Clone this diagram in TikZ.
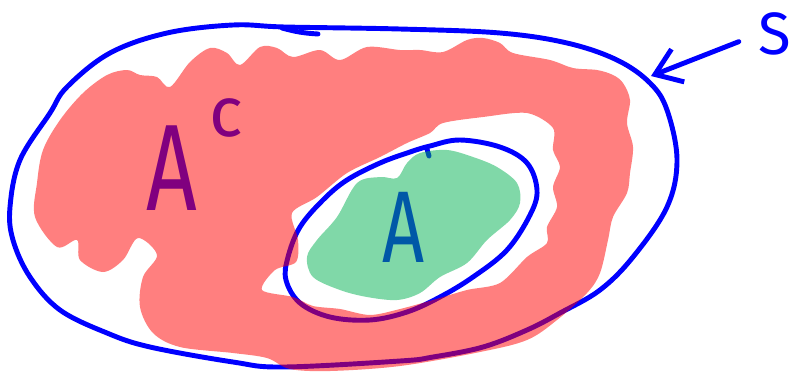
\documentclass[tikz,border=0pt]{standalone}
\usepackage{fontspec}
\setmainfont{Fira Sans}
\usetikzlibrary{arrows.meta}
\definecolor{penBlue}{RGB}{0,0,255}
\definecolor{markRed}{RGB}{255,0,0}
\definecolor{markGreen}{RGB}{1,177,81}

\begin{document}
\begin{tikzpicture}[
  x=0.02cm, y=-0.02cm,
  pen/.style={draw=penBlue, line width=2.8pt, line cap=round, line join=round},
  marker/.style={draw=none, fill opacity=0.5, even odd rule},
  hand/.style={text=penBlue, inner sep=0pt},
  arr/.style={pen, -{Straight Barb[length=14pt, width=20pt]}},
]
\useasboundingbox (0,0) rectangle (798,373);

%% Pen strokes (drawn first, the markers go over them)
\draw[pen] plot[smooth cycle, tension=0.6] coordinates {
  (285,27) (233,25) (167,33) (110,53) (67,87) (50,113) (20,160) (10,207)
  (13,240) (30,277) (60,310) (107,333) (150,347) (233,362) (283,367)
  (400,361) (433,357) (483,347) (527,330) (560,313) (600,290) (633,257)
  (667,207) (677,160) (667,110) (650,83) (617,60) (567,43) (500,33) (400,29)};
\draw[pen] (282,28) to[bend right=6] (318,34);

\draw[pen] plot[smooth cycle, tension=0.6] coordinates {
  (430,146) (460,140) (500,147) (527,163) (537,190) (530,215) (507,250)
  (473,277) (440,297) (407,312) (370,320) (330,317) (300,303) (286,280)
  (288,257) (300,227) (323,200) (347,180) (380,163) (410,152)};
\draw[pen] (427,149) -- (429,156);

%% Labels
\node[hand, anchor=base west] (Ac) at (146,210)
  {\fontsize{70}{70}\selectfont\scalebox{0.72}[1]{A}\hspace{7pt}%
   \raisebox{42pt}{\fontsize{40}{40}\selectfont c}};
\node[hand, anchor=base west] (A) at (382,262)
  {\fontsize{58}{58}\selectfont\scalebox{0.72}[1]{A}};
\node[hand] (S) at (775,34) {\fontsize{34}{34}\selectfont S};

\coordinate (Stip) at (651,76);
\draw[arr, shorten <=0.42cm] (S.west) -- (Stip);

%% A^c marker
\fill[marker, fill=markRed]
  plot[smooth cycle, tension=0.55] coordinates {
  (35,217) (37,183) (43,150) (60,120) (83,93) (107,75) (127,70) (140,75)
  (157,77) (170,87) (190,62) (210,48) (227,53) (240,65) (260,47) (277,48)
  (293,57) (320,50) (340,60) (367,47) (400,50) (420,50) (443,52) (467,40)
  (483,38) (500,43) (513,53) (550,60) (573,68) (597,70) (613,75) (623,83)
  (630,100) (627,123) (633,147) (630,173) (627,193) (613,217) (608,240)
  (600,273) (587,293) (557,320) (527,340) (480,352) (400,366) (330,371)
  (290,369) (267,358) (233,353) (180,347) (153,333) (140,307) (143,277)
  (157,255) (138,238) (123,260) (103,272) (80,260) (77,240) (57,247)}
  plot[smooth cycle, tension=0.5] coordinates {
  (292,213) (317,197) (347,173) (380,157) (407,143) (430,133) (443,123)
  (483,117) (527,113) (553,128) (553,150) (560,167) (553,187) (557,207)
  (547,227) (547,243) (527,257) (500,283) (467,290) (433,300) (400,309)
  (370,315) (340,309) (313,306) (293,297) (262,290) (275,270) (296,262)
  (298,240)};

%% A marker
\fill[marker, fill=markGreen]
  plot[smooth cycle, tension=0.55] coordinates {
  (407,163) (420,153) (447,150) (473,157) (497,167) (517,183) (520,203)
  (510,220) (487,240) (467,263) (440,277) (420,293) (397,300) (367,297)
  (340,290) (313,277) (307,257) (317,240) (337,217) (357,183) (380,177)
  (397,178)};
\end{tikzpicture}
\end{document}
